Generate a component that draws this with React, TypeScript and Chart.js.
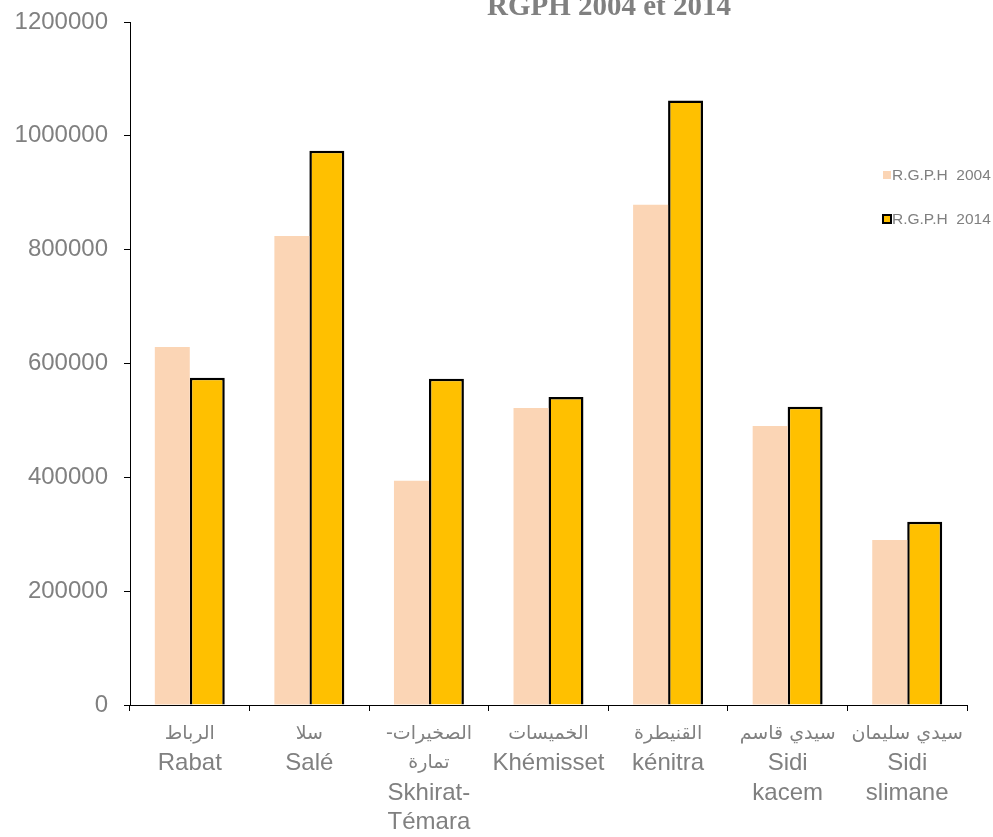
import React, { useEffect, useRef } from "react";
import { Chart, registerables } from "chart.js";

Chart.register(...registerables);

const categories: string[][] = [
  ["الرباط", "Rabat"],
  ["سلا", "Salé"],
  ["-الصخيرات", "تمارة", "Skhirat-", "Témara"],
  ["الخميسات", "Khémisset"],
  ["القنيطرة", "kénitra"],
  ["سيدي قاسم", "Sidi", "kacem"],
  ["سيدي سليمان", "Sidi", "slimane"],
];

const rgph2004: number[] = [629000, 824000, 394000, 522000, 879000, 490000, 290000];
const rgph2014: number[] = [575000, 974000, 573000, 541000, 1062000, 524000, 322000];

const seriesLabels: string[] = ["R.G.P.H  2004", "R.G.P.H  2014"];
const yTicks = { min: 0, max: 1200000, step: 200000 };
const titleText = "RGPH 2004 et 2014";

const GRAY = "#808080";
const FONT = '"Liberation Sans", Arial, sans-serif';
const ARABIC_FONT = '"DejaVu Sans", sans-serif';

const overlayPlugin = {
  id: "overlay",
  afterDraw(chart: any) {
    const ctx = chart.ctx as CanvasRenderingContext2D;
    ctx.save();
    // title (partly cut at top)
    ctx.font = 'bold 29px "Liberation Serif", "Times New Roman", serif';
    ctx.fillStyle = GRAY;
    ctx.textAlign = "center";
    ctx.textBaseline = "alphabetic";
    ctx.fillText(titleText, 609, 15);

    // x category labels, Arabic lines in a smaller face
    const xs = chart.scales.x;
    const labels = chart.data.labels as string[][];
    ctx.textAlign = "center";
    ctx.textBaseline = "middle";
    labels.forEach((lines, i) => {
      const x = xs.getPixelForValue(i);
      lines.forEach((line, k) => {
        const isAr = /[\u0600-\u06FF]/.test(line);
        ctx.font = isAr ? "19px " + ARABIC_FONT : "24px " + FONT;
        ctx.fillStyle = GRAY;
        ctx.fillText(line, x, xs.top + 29 + k * 29.5);
      });
    });

    // legend
    const ds = chart.data.datasets;
    const rows = [175, 219];
    ctx.font = "15.5px " + FONT;
    ctx.textAlign = "left";
    ctx.textBaseline = "middle";
    ds.forEach((d: any, i: number) => {
      const y = rows[i];
      ctx.fillStyle = d.backgroundColor;
      ctx.fillRect(883, y - 4, 8, 8);
      if (d.borderWidth) {
        ctx.strokeStyle = d.borderColor;
        ctx.lineWidth = 2;
        ctx.strokeRect(883, y - 4, 8, 8);
      }
      ctx.fillStyle = GRAY;
      ctx.fillText(d.label, 892, y + 1);
    });
    ctx.restore();
  },
};

export default function App() {
  const ref = useRef<HTMLCanvasElement | null>(null);

  useEffect(() => {
    if (!ref.current) return;
    const chart = new Chart(ref.current, {
      type: "bar",
      data: {
        labels: categories,
        datasets: [
          {
            label: seriesLabels[0],
            data: rgph2004,
            backgroundColor: "#FBD5B5",
            borderWidth: 0,
          },
          {
            label: seriesLabels[1],
            data: rgph2014,
            backgroundColor: "#FFC000",
            borderColor: "#000000",
            borderWidth: 2.5,
          },
        ],
      },
      options: {
        responsive: false,
        animation: false,
        categoryPercentage: 0.585,
        barPercentage: 1,
        layout: { padding: { top: 22, right: 26, left: 0, bottom: 0 } },
        plugins: {
          legend: { display: false },
          title: { display: false },
          tooltip: { enabled: false },
        },
        scales: {
          x: {
            grid: {
              drawOnChartArea: false,
              drawTicks: true,
              tickLength: 6,
              color: "#000000",
              offset: true,
            },
            border: { color: "#000000", width: 1 },
            ticks: { display: false },
            afterFit(scale: any) {
              scale.height = 132;
              scale.paddingLeft = 0;
              scale.paddingRight = 0;
            },
          },
          y: {
            min: yTicks.min,
            max: yTicks.max,
            grid: {
              drawOnChartArea: false,
              drawTicks: true,
              tickLength: 6,
              color: "#000000",
            },
            border: { color: "#000000", width: 1 },
            ticks: {
              stepSize: yTicks.step,
              color: GRAY,
              font: { size: 24, family: FONT },
              padding: 16,
              callback: (v: any) => String(v),
            },
            afterFit(scale: any) {
              scale.width = 130;
              scale.paddingTop = 0;
              scale.paddingBottom = 0;
            },
          },
        },
      },
      plugins: [overlayPlugin],
    });
    return () => chart.destroy();
  }, []);

  return (
    <canvas
      ref={ref}
      width={993}
      height={837}
      style={{ position: "absolute", left: 0, top: 0, display: "block" }}
    />
  );
}
